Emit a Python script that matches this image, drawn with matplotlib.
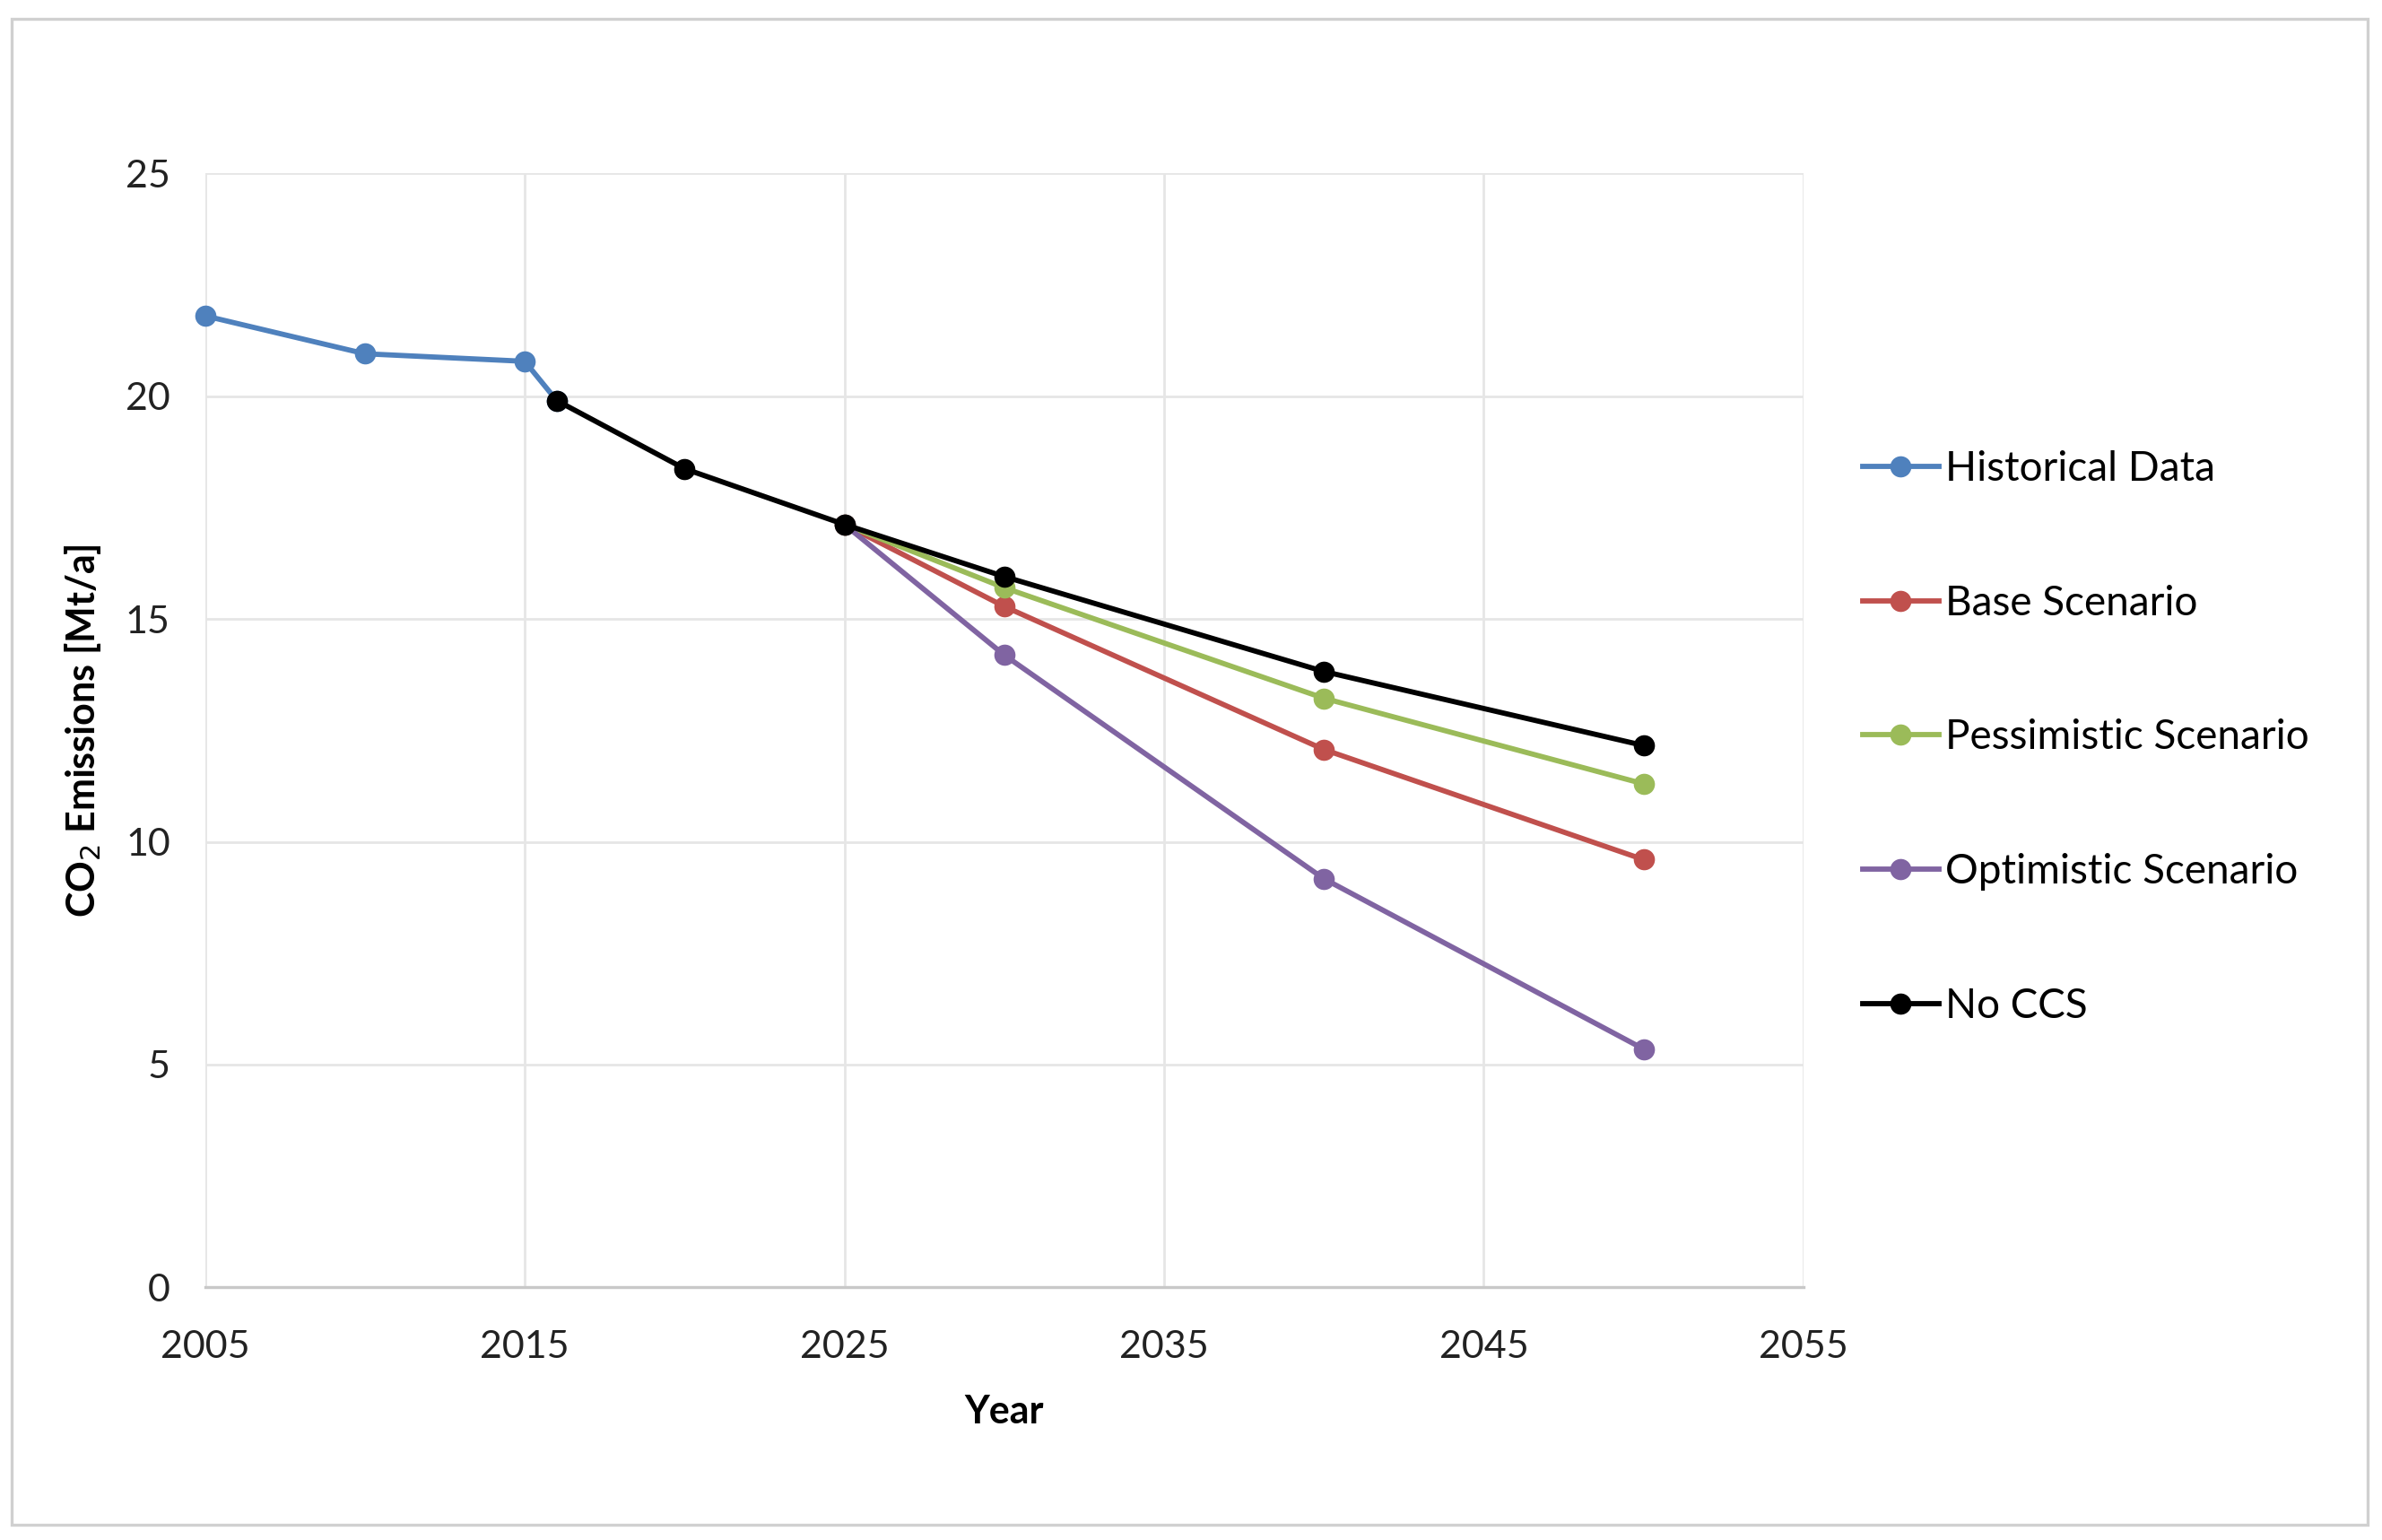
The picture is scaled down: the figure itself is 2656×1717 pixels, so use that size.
"""
CO2 emissions: historical data and CCS scenarios
"""

import matplotlib
matplotlib.use('agg')

import matplotlib.pyplot as plt
from matplotlib.patches import Rectangle

# ------------- data ---------------------------------
hist_years = [2005, 2010, 2015, 2016]
hist_vals = [21.8, 20.95, 20.78, 19.9]

scen_years = [2025, 2030, 2040, 2050]
base_vals = [17.12, 15.28, 12.07, 9.6]
pess_vals = [17.12, 15.7, 13.22, 11.3]
opt_vals = [17.12, 14.19, 9.17, 5.35]

noccs_years = [2016, 2020, 2025, 2030, 2040, 2050]
noccs_vals = [19.9, 18.37, 17.12, 15.95, 13.82, 12.16]

x_ticks = [2005, 2015, 2025, 2035, 2045, 2055]
y_ticks = [0, 5, 10, 15, 20, 25]

# ------------- style ---------------------------------
plt.rcParams['font.family'] = ['Lato', 'DejaVu Sans']
plt.rcParams['font.size'] = 15.5

fig = plt.figure(figsize=(13.28, 8.585), dpi=200)
ax = fig.add_axes([0.0861, 0.164, 0.671, 0.7235])

# outer frame like the spreadsheet chart area
fig.patches.append(Rectangle((0.005, 0.01), 0.989, 0.978,
                             transform=fig.transFigure, fill=False,
                             edgecolor='#d0d0d0', linewidth=1.2))

lw = 2.1
ms = 7.5
series = [
    (hist_years, hist_vals, '#4f81bd', 'Historical Data'),
    (scen_years, base_vals, '#c0504d', 'Base Scenario'),
    (scen_years, pess_vals, '#9bbb59', 'Pessimistic Scenario'),
    (scen_years, opt_vals, '#8064a2', 'Optimistic Scenario'),
    (noccs_years, noccs_vals, 'black', 'No CCS'),
]
for xs, ys, color, label in series:
    ax.plot(xs, ys, 'o-', color=color, lw=lw, ms=ms, label=label,
            clip_on=False)

ax.set_xlim(2005, 2055)
ax.set_ylim(0, 25)
ax.set_xticks(x_ticks)
ax.set_yticks(y_ticks)
ax.grid(True, color='#e6e6e6', linewidth=1.0)
ax.set_axisbelow(True)
ax.tick_params(length=0, colors='#222222')
ax.tick_params(axis='x', pad=17)
ax.tick_params(axis='y', pad=14)
for side in ['top', 'right', 'left']:
    ax.spines[side].set_visible(False)
ax.spines['bottom'].set_color('#c8c8c8')
ax.spines['bottom'].set_linewidth(1.2)

ax.set_xlabel('Year', fontweight='bold', labelpad=12)
ax.set_ylabel('CO$_2$ Emissions [Mt/a]', fontweight='bold', labelpad=9)

ax.legend(loc='center left', bbox_to_anchor=(0.782, 0.521),
          bbox_transform=fig.transFigure, frameon=False,
          handlelength=1.85, handletextpad=0.15, labelspacing=2.35,
          borderaxespad=0, borderpad=0, fontsize=16.5)

plt.savefig('out.png', dpi=200)
